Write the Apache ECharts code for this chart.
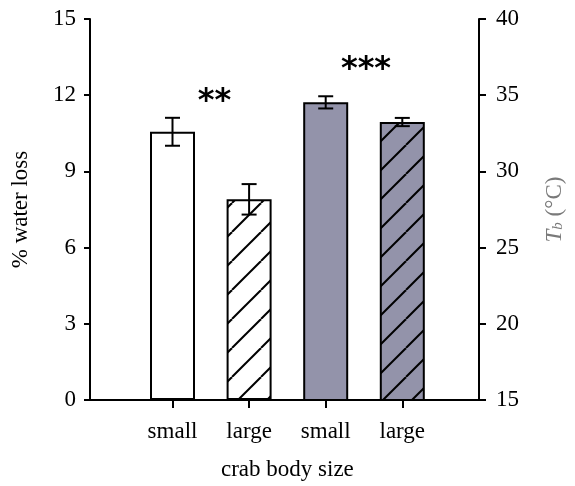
<!DOCTYPE html>
<html><head><meta charset="utf-8">
<script src="https://cdn.jsdelivr.net/npm/echarts@6/dist/echarts.min.js"></script>
<style>html,body{margin:0;padding:0;background:#fff}#c{width:575px;height:486px}</style>
</head><body><div id="c"></div>
<script>
// ---- data ----
const categories = ['small', 'large', 'small', 'large'];
const waterLoss = [10.56, 7.90];          // % water loss (left axis)
const waterLossErr = [0.55, 0.60];
const bodyTemp = [34.53, 33.24];          // Tb (°C) (right axis)
const bodyTempErr = [0.40, 0.27];
const leftTickLabels = [0, 3, 6, 9, 12, 15];
const rightTickLabels = [15, 20, 25, 30, 35, 40];
const sigLabels = ['**', '***'];

// ---- styles ----
const SERIF = '"Liberation Serif", "Times New Roman", serif';
const GRAY = '#9393aa';
function hatch(bg) {
  const s = 29, c = document.createElement('canvas');
  c.width = s; c.height = s;
  const g = c.getContext('2d');
  g.fillStyle = bg; g.fillRect(0, 0, s, s);
  g.strokeStyle = '#000'; g.lineWidth = 2;
  for (let k = -1; k <= 1; k++) {
    g.beginPath(); g.moveTo(k * s, s); g.lineTo(k * s + s, 0); g.stroke();
  }
  return { image: c, repeat: 'repeat' };
}
const lStep = leftTickLabels[1] - leftTickLabels[0];
const rStep = rightTickLabels[1] - rightTickLabels[0];
const axisBlack = { lineStyle: { color: '#000', width: 2 } };
const tickFont = { fontFamily: SERIF, fontSize: 23, color: '#000' };

function errRenderer(params, api) {
  const x = api.value(0), y = api.value(1), e = api.value(2);
  const t = api.coord([x, y + e]), b = api.coord([x, y - e]);
  const hw = 7.5, st = { stroke: '#000', lineWidth: 2 };
  return { type: 'group', children: [
    { type: 'line', shape: { x1: t[0], y1: t[1], x2: b[0], y2: b[1] }, style: st },
    { type: 'line', shape: { x1: t[0] - hw, y1: t[1], x2: t[0] + hw, y2: t[1] }, style: st },
    { type: 'line', shape: { x1: b[0] - hw, y1: b[1], x2: b[0] + hw, y2: b[1] }, style: st }
  ]};
}

const barBorder = { borderColor: '#000', borderWidth: 2 };
const option = {
  animation: false,
  backgroundColor: '#fff',
  grid: [
    { left: 90, top: 19, width: 389, height: 381, outerBoundsMode: 'none' },
    { left: 134.2, top: 19, width: 306.4, height: 381, outerBoundsMode: 'none' }
  ],
  xAxis: [
    { gridIndex: 0, type: 'value', min: 0, max: 1, axisLine: { show: true, ...axisBlack }, axisTick: { show: false }, axisLabel: { show: false }, splitLine: { show: false } },
    { gridIndex: 1, type: 'category', data: categories, boundaryGap: true,
      axisLine: { show: false },
      axisTick: { show: true, alignWithLabel: true, length: 8, ...axisBlack },
      axisLabel: { ...tickFont, margin: 20 },
      name: 'crab body size', nameLocation: 'middle', nameGap: 58,
      nameTextStyle: { ...tickFont } }
  ],
  yAxis: [
    { gridIndex: 0, type: 'value', position: 'left', min: leftTickLabels[0], max: leftTickLabels[leftTickLabels.length - 1], interval: lStep,
      axisLine: { show: true, ...axisBlack }, axisTick: { show: true, length: 6, ...axisBlack },
      axisLabel: { ...tickFont, margin: 14 }, splitLine: { show: false },
      name: '% water loss', nameLocation: 'middle', nameRotate: 90, nameGap: 58,
      nameTextStyle: { ...tickFont } },
    { gridIndex: 0, type: 'value', position: 'right', min: rightTickLabels[0], max: rightTickLabels[rightTickLabels.length - 1], interval: rStep,
      axisLine: { show: true, ...axisBlack }, axisTick: { show: true, length: 7, ...axisBlack },
      axisLabel: { ...tickFont, margin: 17 }, splitLine: { show: false },
      name: '{i|T}{s|b}{n| (°C)}', nameLocation: 'middle', nameRotate: 90, nameGap: 64,
      nameTextStyle: { ...tickFont, color: '#7a7a7a',
        rich: {
          i: { fontFamily: SERIF, fontSize: 23, fontStyle: 'italic', color: '#7a7a7a', lineHeight: 23, verticalAlign: 'top' },
          s: { fontFamily: SERIF, fontSize: 15, fontStyle: 'italic', color: '#7a7a7a', lineHeight: 15, padding: [13, 0, 0, 0], verticalAlign: 'bottom' },
          n: { fontFamily: SERIF, fontSize: 23, color: '#7a7a7a', lineHeight: 23, verticalAlign: 'top' }
        } } },
    { gridIndex: 1, type: 'value', show: false, min: leftTickLabels[0], max: leftTickLabels[leftTickLabels.length - 1], splitLine: { show: false } },
    { gridIndex: 1, type: 'value', show: false, min: rightTickLabels[0], max: rightTickLabels[rightTickLabels.length - 1], splitLine: { show: false } }
  ],
  series: [
    { type: 'bar', xAxisIndex: 1, yAxisIndex: 2, barWidth: 45, barGap: '-100%',
      data: [
        { value: waterLoss[0], itemStyle: { color: '#fff', ...barBorder } },
        { value: waterLoss[1], itemStyle: { color: hatch('#fff'), ...barBorder } },
        '-', '-'
      ] },
    { type: 'bar', xAxisIndex: 1, yAxisIndex: 3, barWidth: 45, barGap: '-100%',
      data: [
        '-', '-',
        { value: bodyTemp[0], itemStyle: { color: GRAY, ...barBorder } },
        { value: bodyTemp[1], itemStyle: { color: hatch(GRAY), ...barBorder } }
      ] },
    { type: 'custom', xAxisIndex: 1, yAxisIndex: 2, renderItem: errRenderer, z: 5,
      encode: { x: 0, y: 1 },
      data: waterLoss.map((v, i) => [i, v, waterLossErr[i]]) },
    { type: 'custom', xAxisIndex: 1, yAxisIndex: 3, renderItem: errRenderer, z: 5,
      encode: { x: 0, y: 1 },
      data: bodyTemp.map((v, i) => [i + 2, v, bodyTempErr[i]]) }
  ],
  graphic: [
    { type: 'text', x: 214.5, y: 102, style: { text: sigLabels[0], align: 'center', verticalAlign: 'middle', font: 'bold 32px "DejaVu Sans"', fill: '#000' } },
    { type: 'text', x: 366, y: 70, style: { text: sigLabels[1], align: 'center', verticalAlign: 'middle', font: 'bold 32px "DejaVu Sans"', fill: '#000' } }
  ]
};
const chart = echarts.init(document.getElementById('c'), null, { renderer: 'canvas' });
chart.setOption(option);
</script>
</body></html>
